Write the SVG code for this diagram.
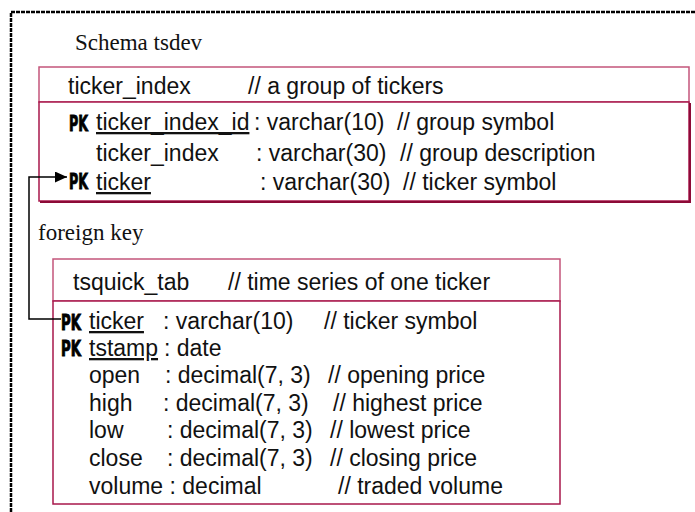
<svg xmlns="http://www.w3.org/2000/svg" width="695" height="512" viewBox="0 0 695 512">
  <defs>
    <style>
      .sans { font-family: "Liberation Sans", Arial, sans-serif; font-size: 23px; fill: #111; }
      .serif { font-family: "Liberation Serif", "Times New Roman", serif; font-size: 23px; fill: #111; }
      .pk { font-family: "DejaVu Sans Condensed", "DejaVu Sans", sans-serif; font-weight: 900; font-size: 22px; fill: #000; stroke: #000; stroke-width: 0.9; }
      .u { text-decoration: underline; }
      .hdr { fill: #fff; stroke: #c4557b; stroke-width: 1.5; }
      .body { fill: #fff; stroke: #a8174b; stroke-width: 1.5; }
      .shadow { fill: none; stroke: #8c0a37; stroke-width: 2; }
      .frame { fill: none; stroke: #000; stroke-width: 2.5; stroke-dasharray: 4 1; }
      .link { fill: none; stroke: #000; stroke-width: 1.5; }
    </style>
    <marker id="arrow" markerWidth="12" markerHeight="11" refX="12" refY="5.5" orient="auto" markerUnits="userSpaceOnUse">
      <path d="M0,0 L12,5.5 L0,11 Z" fill="#000"/>
    </marker>
  </defs>

  <!-- schema boundary -->
  <path class="frame" d="M11,512 V12 H695"/>
  <text class="serif" x="75" y="50">Schema tsdev</text>
  <text class="serif" x="38" y="240">foreign key</text>

  <!-- table ticker_index -->
  <g id="ticker_index">
    <rect class="hdr" x="39" y="67" width="650" height="35"/>
    <rect class="body" x="39" y="102" width="650" height="99"/>
    <path class="shadow" d="M690,103 V202 H40"/>
    <text class="sans" x="68" y="94">ticker_index</text>
    <text class="sans" x="248" y="94">// a group of tickers</text>

    <text class="pk" x="69" y="131" textLength="19" lengthAdjust="spacingAndGlyphs">PK</text>
    <text class="sans u" x="96" y="130">ticker_index_id</text>
    <text class="sans" x="254" y="130">: varchar(10)</text>
    <text class="sans" x="397" y="130">// group symbol</text>

    <text class="sans" x="96" y="161">ticker_index</text>
    <text class="sans" x="256" y="161">: varchar(30)</text>
    <text class="sans" x="400" y="161">// group description</text>

    <text class="pk" x="69" y="189" textLength="19" lengthAdjust="spacingAndGlyphs">PK</text>
    <text class="sans u" x="96" y="190">ticker</text>
    <text class="sans" x="260" y="190">: varchar(30)</text>
    <text class="sans" x="403" y="190">// ticker symbol</text>
  </g>

  <!-- table tsquick_tab -->
  <g id="tsquick_tab">
    <rect class="hdr" x="53" y="259" width="507" height="42"/>
    <rect class="body" x="53" y="301" width="507" height="203"/>
    <text class="sans" x="73" y="290">tsquick_tab</text>
    <text class="sans" x="228" y="290">// time series of one ticker</text>

    <text class="pk" x="61" y="330" textLength="20" lengthAdjust="spacingAndGlyphs">PK</text>
    <text class="sans u" x="89" y="329">ticker</text>
    <text class="sans" x="163" y="329">: varchar(10)</text>
    <text class="sans" x="324" y="329">// ticker symbol</text>

    <text class="pk" x="61" y="356" textLength="20" lengthAdjust="spacingAndGlyphs">PK</text>
    <text class="sans u" x="89" y="356">tstamp</text>
    <text class="sans" x="164" y="356">: date</text>

    <text class="sans" x="89" y="383">open</text>
    <text class="sans" x="165" y="383">: decimal(7, 3)</text>
    <text class="sans" x="328" y="383">// opening price</text>

    <text class="sans" x="89" y="411">high</text>
    <text class="sans" x="163" y="411">: decimal(7, 3)</text>
    <text class="sans" x="333" y="411">// highest price</text>

    <text class="sans" x="89" y="438">low</text>
    <text class="sans" x="167" y="438">: decimal(7, 3)</text>
    <text class="sans" x="330" y="438">// lowest price</text>

    <text class="sans" x="89" y="466">close</text>
    <text class="sans" x="167" y="466">: decimal(7, 3)</text>
    <text class="sans" x="330" y="466">// closing price</text>

    <text class="sans" x="89" y="494">volume : decimal</text>
    <text class="sans" x="338" y="494">// traded volume</text>
  </g>

  <!-- foreign key reference: tsquick_tab.ticker -> ticker_index.ticker -->
  <g id="connectors">
    <path class="link" d="M61,319 H29 V177 H67" marker-end="url(#arrow)"/>
  </g>
</svg>
